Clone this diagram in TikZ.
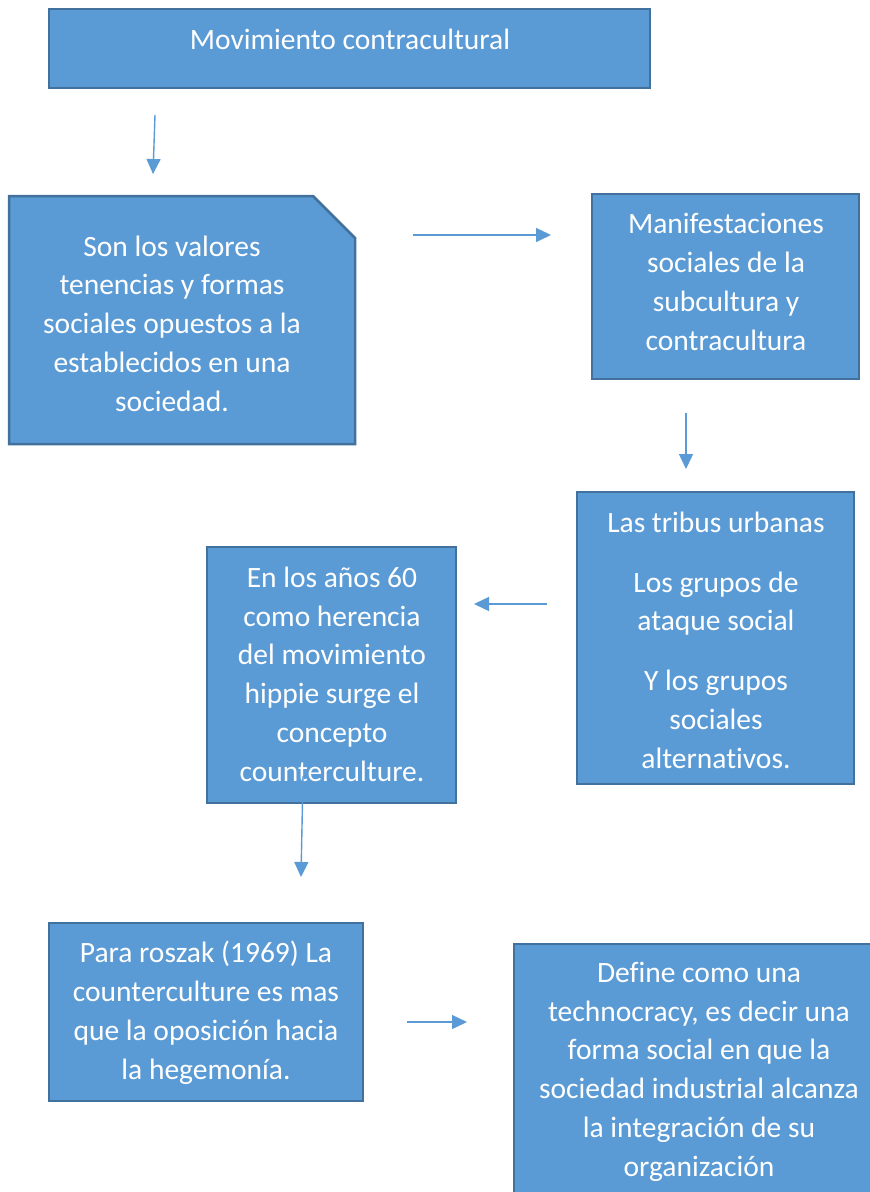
\documentclass[tikz,border=0pt]{standalone}
\usepackage{fontspec}
\setmainfont{Carlito}[Ligatures=NoCommon]
\usetikzlibrary{arrows.meta}
\definecolor{boxfill}{HTML}{5B9BD5}
\definecolor{boxline}{HTML}{41719C}
\definecolor{arrowc}{HTML}{5B9BD5}
\begin{document}
\begin{tikzpicture}[x=1pt,y=-1pt,
  box/.style={draw=boxline, fill=boxfill, line width=2.5pt, inner sep=0pt, rectangle, line join=miter},
  txt/.style={text=white, align=center, inner sep=0pt, anchor=base, font=\fontsize{29.5}{38.7}\selectfont},
  conn/.style={draw=arrowc, line width=1.4pt, -{Triangle[length=15pt,width=14pt]}}]
\useasboundingbox (0,0) rectangle (870,1192);
\fill[white] (0,0) rectangle (870,1192);
% boxes
\node[box, minimum width=601pt, minimum height=79pt] (b1) at (349.5,48.5) {};
\draw[box] (9,196) -- (313,196) -- (355,238) -- (355,444) -- (9,444) -- cycle;
\node[box, minimum width=267pt, minimum height=185pt] (b3) at (725.5,286.5) {};
\node[box, minimum width=277pt, minimum height=292pt] (b4) at (715.5,638) {};
\node[box, minimum width=249pt, minimum height=256pt] (b5) at (331.5,675) {};
\node[box, minimum width=314pt, minimum height=178pt] (b6) at (206,1012) {};
\node[box, minimum width=386pt, minimum height=286pt] (b7) at (707,1087) {};
% texts (anchor = baseline of last line)
\node[txt] (t1) at (350,49) {Movimiento contracultural};
\node[txt] (t2) at (172,411) {Son los valores\\tenencias y formas\\sociales opuestos a la\\establecidos en una\\sociedad.};
\node[txt] (t3) at (726,350) {Manifestaciones\\sociales de la\\subcultura y\\contracultura};
\node[txt] (t4) at (716,768) {Las tribus urbanas\\[21pt]Los grupos de\\ataque social\\[21pt]Y los grupos\\sociales\\alternativos.};
\node[txt] (t5) at (332,781) {En los años 60\\como herencia\\del movimiento\\hippie surge el\\concepto\\counterculture.};
\node[txt] (t6) at (206,1079) {Para roszak (1969) La\\counterculture es mas\\que la oposición hacia\\la hegemonía.};
\node[txt] (t7) at (699,1176) {Define como una\\technocracy, es decir una\\forma social en que la\\sociedad industrial alcanza\\la integración de su\\organización};
% connectors
\coordinate (a1s) at (155,115); \coordinate (a1e) at (153,174);
\coordinate (a2s) at (413,235); \coordinate (a2e) at (551,235);
\coordinate (a3s) at (686,413); \coordinate (a3e) at (686,469);
\coordinate (a4s) at (547,604); \coordinate (a4e) at (474,604);
\coordinate (a5s) at (303,776); \coordinate (a5e) at (301,877);
\coordinate (a6s) at (407,1022); \coordinate (a6e) at (467,1022);
\draw[conn] (a1s) -- (a1e);
\draw[conn] (a2s) -- (a2e);
\draw[conn] (a3s) -- (a3e);
\draw[conn] (a4s) -- (a4e);
\draw[conn] (a5s) -- (a5e);
\draw[conn] (a6s) -- (a6e);
\end{tikzpicture}
\end{document}
